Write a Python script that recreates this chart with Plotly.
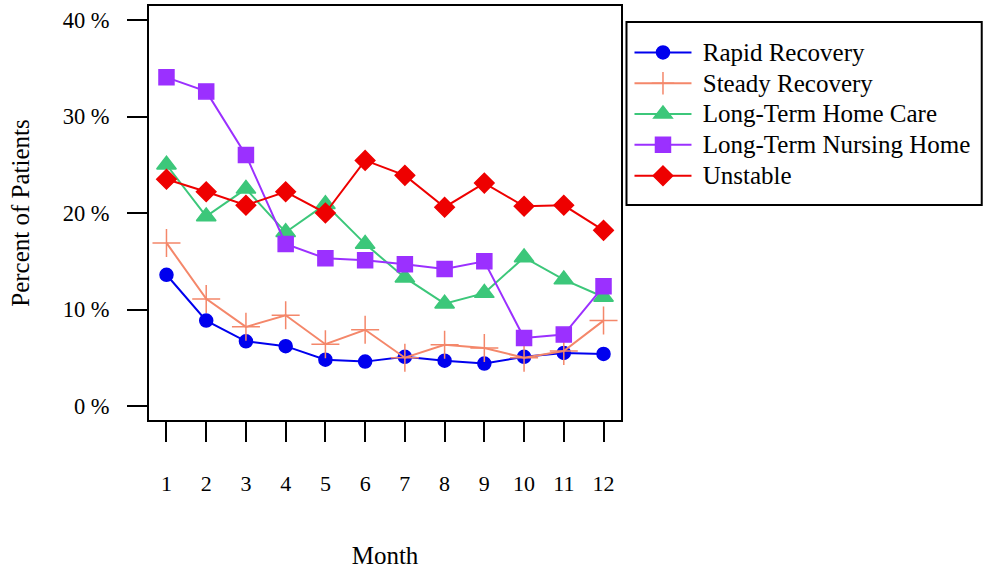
import plotly.graph_objects as go

months = list(range(1, 13))
month_labels = [str(m) for m in months]
y_ticks = [0, 10, 20, 30, 40]

rapid = [13.6, 8.85, 6.7, 6.2, 4.8, 4.6, 5.1, 4.7, 4.4, 5.1, 5.5, 5.4]
steady = [16.9, 11.1, 8.2, 9.4, 6.4, 7.9, 5.0, 6.35, 6.0, 5.0, 5.7, 8.85]
home_care = [25.0, 19.65, 22.5, 18.0, 20.9, 16.8, 13.3, 10.6, 11.7, 15.4, 13.1, 11.3]
nursing = [34.06, 32.6, 26.0, 16.8, 15.3, 15.1, 14.7, 14.2, 15.0, 7.05, 7.4, 12.4]
unstable = [23.5, 22.2, 20.8, 22.2, 20.0, 25.45, 23.9, 20.6, 23.1, 20.7, 20.8, 18.2]

series = [
    ("Rapid Recovery", rapid, "#0000EE", "circle", 13),
    ("Steady Recovery", steady, "#F4876A", "cross-thin", 20),
    ("Long-Term Home Care", home_care, "#3CC77A", "triangle-up", 17),
    ("Long-Term Nursing Home", nursing, "#9B30FF", "square", 15),
    ("Unstable", unstable, "#EE0000", "diamond", 15),
]

FONT = "Liberation Serif, Times New Roman, serif"

# plot area in page pixels
L, R, T, B = 148.5, 621.5, 6, 420
W, H = 987, 569
PW, PH = R - L, B - T

fig = go.Figure()
for name, vals, color, sym, size in series:
    fig.add_trace(go.Scatter(
        x=months, y=vals,
        name=f'<span style="font-size:25px">\u00a0{name}</span>',
        mode="lines+markers",
        line=dict(color=color, width=2),
        marker=dict(symbol=sym, size=size, color=color,
                    line=dict(color=color, width=1.5)),
    ))

fig.update_layout(
    width=W, height=H,
    margin=dict(l=L, r=W - R, t=T, b=H - B),
    paper_bgcolor="white", plot_bgcolor="white",
    font=dict(family=FONT, color="black", size=22),
    showlegend=True,
    legend=dict(
        x=(630 - L) / PW, y=(B - 32) / PH, xanchor="left", yanchor="top",
        bgcolor="rgba(0,0,0,0)", borderwidth=0,
        font=dict(family=FONT, size=21.4, color="black"),
        itemwidth=57, tracegroupgap=0,
    ),
    xaxis=dict(
        range=[0.56, 12.44], tickmode="array", tickvals=months, ticktext=month_labels,
        showgrid=False, zeroline=False, automargin=False,
        showline=True, linecolor="black", linewidth=2, mirror=True,
        ticks="outside", ticklen=20, tickwidth=2, tickcolor="black",
        ticklabelstandoff=23,
        tickfont=dict(family=FONT, size=22),
        title=dict(text="Month", font=dict(family=FONT, size=25), standoff=55),
    ),
    yaxis=dict(
        range=[-1.45, 41.45], tickmode="array", tickvals=y_ticks,
        ticktext=[f"{v} %" for v in y_ticks],
        showgrid=False, zeroline=False, automargin=False,
        showline=True, linecolor="black", linewidth=2, mirror=True,
        ticks="outside", ticklen=20, tickwidth=2, tickcolor="black",
        ticklabelstandoff=13,
        tickfont=dict(family=FONT, size=22.5),
        title=dict(text="Percent of Patients", font=dict(family=FONT, size=25), standoff=26),
    ),
    shapes=[dict(
        type="rect", xref="paper", yref="paper",
        x0=(627 - L) / PW, x1=(983 - L) / PW,
        y0=(B - 205) / PH, y1=(B - 22) / PH,
        line=dict(color="black", width=2), fillcolor="rgba(0,0,0,0)",
    )],
)

fig.write_html("out.html", config={"displayModeBar": False},
               post_script="document.body.style.margin='0px';")
